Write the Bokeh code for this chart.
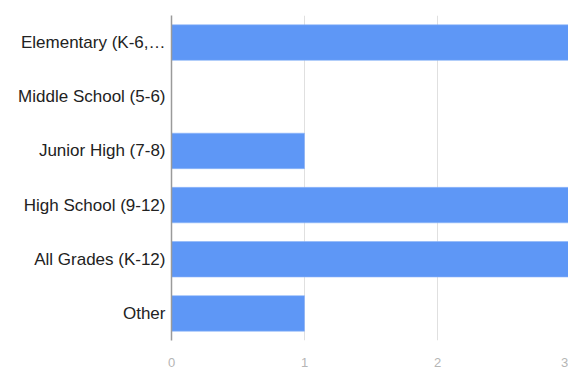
from bokeh.plotting import figure
from bokeh.models import FactorRange, Range1d, FixedTicker, ColumnDataSource
from bokeh.embed import file_html
from bokeh.resources import INLINE

categories = ["Elementary (K-6,…", "Middle School (5-6)", "Junior High (7-8)",
              "High School (9-12)", "All Grades (K-12)", "Other"]
counts = [3, 0, 1, 3, 3, 1]
x_ticks = [0, 1, 2, 3]

FONT = "Liberation Sans"
BAR = "#5e97f6"
X_END = 2.985

src = ColumnDataSource(dict(cat=categories, val=counts))

p = figure(width=568, height=369, output_backend="svg", toolbar_location=None,
           y_range=FactorRange(*reversed(categories)),
           x_range=Range1d(0, X_END),
           min_border_left=171, min_border_right=0,
           min_border_top=15, min_border_bottom=24)
p.outline_line_color = None
p.background_fill_color = "white"
p.border_fill_color = "white"

p.hbar(y="cat", right="val", left=0, height=0.655, source=src,
       fill_color=BAR, line_color="#8db5f8", line_width=0.6)

# x axis: labels only; the last tick sits just past the frame edge, so its
# label is drawn slightly inside the edge to stay on the canvas
edge_pos = X_END - 0.03
axis_ticks = [t for t in x_ticks if t <= X_END] + [edge_pos]
p.xaxis.ticker = FixedTicker(ticks=axis_ticks)
p.xaxis.major_label_overrides = {edge_pos: str(x_ticks[-1])}
p.xaxis.axis_line_color = None
p.xaxis.major_tick_line_color = None
p.xaxis.minor_tick_line_color = None
p.xaxis.major_label_text_font = FONT
p.xaxis.major_label_text_font_size = "13px"
p.xaxis.major_label_text_color = "#b5b5b5"
p.xaxis.major_label_standoff = 11

p.xgrid.ticker = FixedTicker(ticks=x_ticks)
p.xgrid.grid_line_color = "#e0e0e0"
p.xgrid.grid_line_width = 1
p.ygrid.grid_line_color = None

# y axis: category labels and the zero baseline
p.yaxis.axis_line_color = "#9a9a9a"
p.yaxis.axis_line_width = 1.5
p.yaxis.major_tick_line_color = None
p.yaxis.minor_tick_line_color = None
p.yaxis.major_label_text_font = FONT
p.yaxis.major_label_text_font_size = "17px"
p.yaxis.major_label_text_color = "#222222"
p.yaxis.major_label_standoff = 0

open("out.html", "w").write(file_html(p, INLINE))
